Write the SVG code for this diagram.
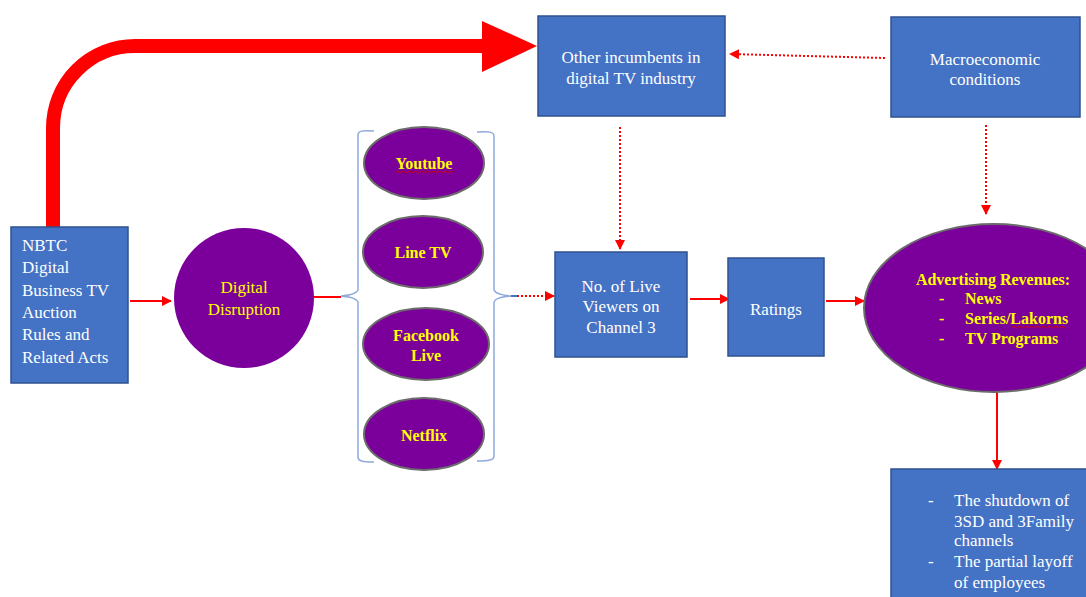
<svg xmlns="http://www.w3.org/2000/svg" width="1086" height="597" viewBox="0 0 1086 597">
<defs>
<style>
.box{fill:#4472C4;stroke:#2F528F;stroke-width:1.5}
.ell{fill:#7B009B;stroke:#6b6b6b;stroke-width:2}
.circ{fill:#7B009B;stroke:none}
.wt{fill:#ffffff;font-family:"Liberation Serif","Times New Roman",serif;font-size:17px}
.yt{fill:#FFFF00;font-family:"Liberation Serif","Times New Roman",serif;font-size:17px}
.yb{fill:#FFFF00;font-family:"Liberation Serif","Times New Roman",serif;font-size:16px;font-weight:bold}
.c{text-anchor:middle}
.solid{stroke:#FF0000;stroke-width:2;fill:none}
.dot{stroke:#FF0000;stroke-width:2;fill:none;stroke-dasharray:2 2}
.brace{stroke:#8EA9DB;stroke-width:1.5;fill:none}
.wavy{stroke:#D00000;stroke-width:1;fill:none}
</style>
<marker id="ah" markerWidth="10" markerHeight="10" refX="9" refY="5" orient="auto" markerUnits="userSpaceOnUse">
<path d="M0,0 L10,5 L0,10 Z" fill="#FF0000"/>
</marker>
</defs>

<g id="connectors">
<path d="M53,229 V128 A82,82 0 0 1 135,46 H484" stroke="#FF0000" stroke-width="14" fill="none"/>
<polygon points="482,21 537,46 482,72" fill="#FF0000"/>
<line class="dot" x1="885" y1="58" x2="730" y2="54" marker-end="url(#ah)"/>
<line class="dot" x1="620" y1="127" x2="620" y2="249" marker-end="url(#ah)"/>
<line class="dot" x1="986" y1="125" x2="986" y2="214" marker-end="url(#ah)"/>
<line class="solid" x1="130" y1="301" x2="171" y2="301" marker-end="url(#ah)"/>
<line class="solid" x1="313" y1="297" x2="341" y2="297"/>
<path class="brace" d="M374,131 C362,130 358,131 358,135 L358,289 C358,293 352,295 341,296 C352,297 358,299 358,303 L358,457 C358,461 362,462 374,462"/>
<path class="brace" d="M477,132 C489,131 494,132 494,136 L494,289 C494,293 500,295 511,296 C500,297 494,299 494,303 L494,456 C494,460 489,461 477,461"/>
<line x1="511" y1="296" x2="517" y2="296" stroke="#4472C4" stroke-width="2"/>
<line class="dot" x1="517" y1="296" x2="554" y2="296" marker-end="url(#ah)"/>
<line class="solid" x1="690" y1="299" x2="729" y2="299" marker-end="url(#ah)"/>
<line class="solid" x1="826" y1="301" x2="864" y2="301" marker-end="url(#ah)"/>
<line class="solid" x1="997" y1="392" x2="997" y2="469" marker-end="url(#ah)"/>
</g>

<g id="nbtc">
<rect class="box" x="11" y="227" width="117" height="156"/>
<text class="wt" x="22" y="251">NBTC</text>
<text class="wt" x="22" y="273">Digital</text>
<text class="wt" x="22" y="296">Business TV</text>
<text class="wt" x="22" y="318">Auction</text>
<text class="wt" x="22" y="340">Rules and</text>
<text class="wt" x="22" y="363">Related Acts</text>
</g>

<g id="digital-disruption">
<ellipse class="circ" cx="244" cy="298" rx="70" ry="70"/>
<text class="yt c" x="244" y="293">Digital</text>
<text class="yt c" x="244" y="315">Disruption</text>
</g>

<g id="youtube">
<ellipse class="ell" cx="424" cy="163" rx="60" ry="36"/>
<text class="yb c" x="424" y="169">Youtube</text>
<path class="wavy" d="M396,172 q1.5,-1.5 3,0 t3,0 t3,0 t3,0 t3,0 t3,0 t3,0 t3,0 t3,0 t3,0 t3,0 t3,0 t3,0 t3,0 t3,0 t3,0 t3,0 t3,0 t3,0"/>
</g>

<g id="linetv">
<ellipse class="ell" cx="423" cy="252" rx="60" ry="36"/>
<text class="yb c" x="423" y="258">Line TV</text>
</g>

<g id="facebook">
<ellipse class="ell" cx="426" cy="344" rx="63" ry="36"/>
<text class="yb c" x="426" y="341">Facebook</text>
<text class="yb c" x="426" y="361">Live</text>
</g>

<g id="netflix">
<ellipse class="ell" cx="424" cy="434" rx="60" ry="36"/>
<text class="yb c" x="424" y="441">Netflix</text>
</g>

<g id="other-incumbents">
<rect class="box" x="538" y="16" width="187" height="100"/>
<text class="wt c" x="631" y="63">Other incumbents in</text>
<text class="wt c" x="631" y="84">digital TV industry</text>
</g>

<g id="macro">
<rect class="box" x="891" y="17" width="189" height="100"/>
<text class="wt c" x="985" y="65">Macroeconomic</text>
<text class="wt c" x="985" y="85">conditions</text>
</g>

<g id="viewers">
<rect class="box" x="555" y="252" width="132" height="105"/>
<text class="wt c" x="621" y="292">No. of Live</text>
<text class="wt c" x="621" y="312">Viewers on</text>
<text class="wt c" x="621" y="333">Channel 3</text>
</g>

<g id="ratings">
<rect class="box" x="728" y="258" width="96" height="98"/>
<text class="wt c" x="776" y="315">Ratings</text>
</g>

<g id="advertising">
<ellipse class="ell" cx="994" cy="308" rx="130" ry="84"/>
<text class="yb c" x="993" y="285">Advertising Revenues:</text>
<text class="yb" x="939" y="304">-</text>
<text class="yb" x="965" y="304">News</text>
<text class="yb" x="939" y="324">-</text>
<text class="yb" x="965" y="324">Series/Lakorns</text>
<path class="wavy" d="M1012,327 q1.5,-1.5 3,0 t3,0 t3,0 t3,0 t3,0 t3,0 t3,0 t3,0 t3,0 t3,0 t3,0 t3,0 t3,0 t3,0 t3,0 t3,0 t3,0 t3,0"/>
<text class="yb" x="939" y="344">-</text>
<text class="yb" x="965" y="344">TV Programs</text>
</g>

<g id="outcomes">
<rect class="box" x="891" y="469" width="200" height="140"/>
<text class="wt" x="928" y="506">-</text>
<text class="wt" x="954" y="506">The shutdown of</text>
<text class="wt" x="954" y="527">3SD and 3Family</text>
<text class="wt" x="954" y="546">channels</text>
<text class="wt" x="928" y="567">-</text>
<text class="wt" x="954" y="567">The partial layoff</text>
<text class="wt" x="954" y="588">of employees</text>
</g>
</svg>
